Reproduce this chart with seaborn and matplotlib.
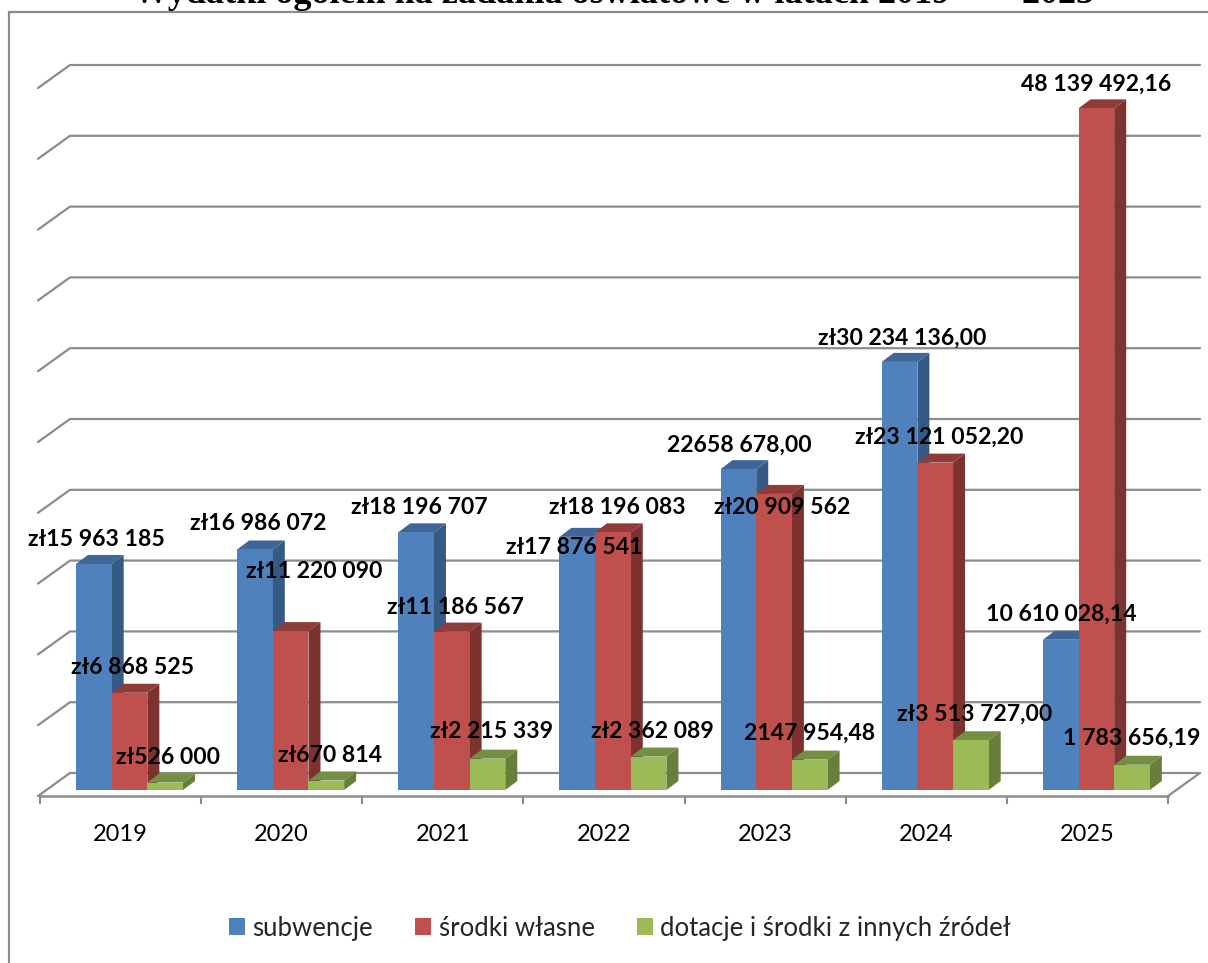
import pandas as pd
import matplotlib.pyplot as plt
import seaborn as sns
from matplotlib.patches import Polygon, Rectangle

years = ['2019', '2020', '2021', '2022', '2023', '2024', '2025']
series_names = ['subwencje', 'środki własne', 'dotacje i środki z innych źródeł']
subwencje = [15963185, 16986072, 18196707, 17876541, 22658678.00, 30234136.00, 10610028.14]
srodki_wlasne = [6868525, 11220090, 11186567, 18196083, 20909562, 23121052.20, 48139492.16]
dotacje = [526000, 670814, 2215339, 2362089, 2147954.48, 3513727.00, 1783656.19]

labels_sub = ['zł15 963 185', 'zł16 986 072', 'zł18 196 707', 'zł17 876 541',
              '22658 678,00', 'zł30 234 136,00', '10 610 028,14']
labels_wl = ['zł6 868 525', 'zł11 220 090', 'zł11 186 567', 'zł18 196 083',
             'zł20 909 562', 'zł23 121 052,20', '48 139 492,16']
labels_dot = ['zł526 000', 'zł670 814', 'zł2 215 339', 'zł2 362 089',
              '2147 954,48', 'zł3 513 727,00', '1 783 656,19']
grid_values = [0, 5e6, 10e6, 15e6, 20e6, 25e6, 30e6, 35e6, 40e6, 45e6, 50e6]

# label centres in pixels of the picture, moved by hand like in the original
pos_sub = [(96, 539), (258, 524), (419, 507), (574, 547), (739, 445), (902, 338), (1061, 614)]
pos_wl = [(133, 667), (314, 572), (455, 607), (617, 507), (782, 507), (939, 437), (1096, 84)]
pos_dot = [(168, 757), (330, 755), (491, 732), (652, 731), (810, 733), (975, 714), (1132, 738)]

W, H = 1208, 963
front = ['#4F81BD', '#C0504D', '#9BBB59']
side = ['#355A86', '#7D3230', '#677F3A']
top = ['#3E6696', '#8E3C3A', '#748F43']
line_col = '#8C8C8C'

sns.set_theme(style='white')
plt.rcParams['font.family'] = ['Lato', 'DejaVu Sans']

df = pd.DataFrame({
    'rok': years * 3,
    'seria': [n for n in series_names for _ in years],
    'kwota': subwencje + srodki_wlasne + dotacje,
})

fig = plt.figure(figsize=(W / 100, H / 100), dpi=100, facecolor='white')
ax = fig.add_axes([40 / W, 1 - 796 / H, 1128 / W, (796 - 82) / H])

sns.barplot(data=df, x='rok', y='kwota', hue='seria', palette=front, width=0.664,
            gap=0, saturation=1, linewidth=0, ax=ax, zorder=3)

# one category is 161.14 px, 1 mln is 14.16 px
cat_px = 1128 / 7
val_px = 14.16 / 1e6
x0 = -(129.5 - 40) / cat_px
ax.set_xlim(x0, x0 + 7)
ax.set_ylim(-6 / val_px, 708 / val_px)

# walls and floor
wall_dx = 30 / cat_px
wall_dy = 23 / val_px
for v in grid_values:
    low = v - 6 / val_px
    ax.plot([x0 - 2 / cat_px, x0 + wall_dx, x0 + 7 + 32 / cat_px],
            [low, low + wall_dy, low + wall_dy],
            color=line_col, lw=1.6, clip_on=False, zorder=1)
ax.plot([x0 + 7, x0 + 7 + 32 / cat_px], [-6 / val_px, -6 / val_px + wall_dy],
        color=line_col, lw=1.6, clip_on=False, zorder=1)

# 3d faces of the bars
dx = 12 / cat_px
dy = 9 / val_px
for i, cont in enumerate(ax.containers):
    for bar in cont:
        x = bar.get_x()
        w = bar.get_width()
        h = bar.get_height()
        ax.add_patch(Polygon([(x + w, 0), (x + w + dx, dy), (x + w + dx, h + dy), (x + w, h)],
                             facecolor=side[i], edgecolor='none', clip_on=False, zorder=3 + i))
        ax.add_patch(Polygon([(x, h), (x + dx, h + dy), (x + w + dx, h + dy), (x + w, h)],
                             facecolor=top[i], edgecolor='none', clip_on=False, zorder=3 + i))
        bar.set_zorder(3 + i + 0.5)

ax.set_xlabel('')
ax.set_ylabel('')
ax.set_yticks([])
ax.set_xticks([x0 + 0.5 + i for i in range(7)], years, fontsize=17, color='black')
ax.set_xticks([x0 + i for i in range(8)], minor=True)
ax.tick_params(axis='x', which='major', length=0, pad=20.5)
ax.tick_params(axis='x', which='minor', bottom=True, length=6, width=1.5, color=line_col)
for s in ['top', 'left', 'right']:
    ax.spines[s].set_visible(False)
ax.spines['bottom'].set_color(line_col)
ax.spines['bottom'].set_linewidth(1.8)
ax.patch.set_alpha(0)

sns.move_legend(ax, 'center', bbox_to_anchor=(620 / W, 1 - 928 / H),
                bbox_transform=fig.transFigure, ncol=3, frameon=False, title=None,
                fontsize=18.5, handlelength=0.62, handleheight=0.62,
                columnspacing=1.65, handletextpad=0.28)

for texts, places in [(labels_sub, pos_sub), (labels_wl, pos_wl), (labels_dot, pos_dot)]:
    for t, (px, py) in zip(texts, places):
        fig.text(px / W, 1 - py / H, t, ha='center', va='center', fontsize=16.6,
                 fontweight='bold', color='black', zorder=20)

# outer frame, goes past the right and bottom edge
fig.add_artist(Rectangle((9 / W, -0.02), 1.1, 1.02 - 12 / H, transform=fig.transFigure,
                         facecolor='none', edgecolor=line_col, lw=1.6, zorder=0))

fig.text(133 / W, 1 - 3 / H, 'Wydatki ogółem na zadania oświatowe w latach 2019   –   2025',
         ha='left', va='baseline', fontsize=26, fontweight='bold',
         family='Liberation Serif', color='black')

fig.savefig('out.png', dpi=100)
